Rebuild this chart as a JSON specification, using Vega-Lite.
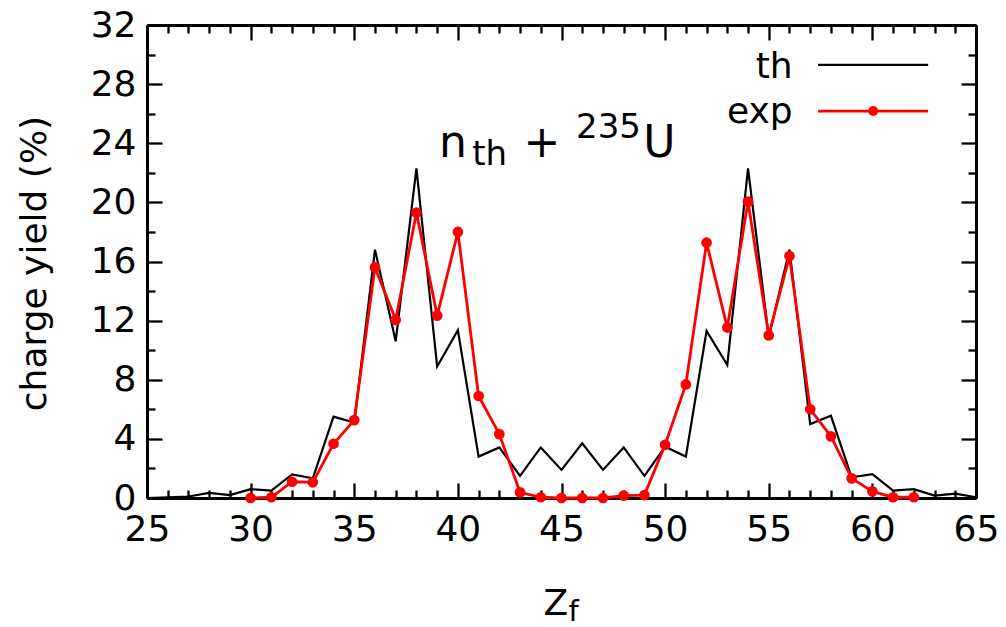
{
  "$schema": "https://vega.github.io/schema/vega-lite/v6.json",
  "width": 829,
  "height": 473,
  "autosize": {"type": "none"},
  "padding": {"left": 147, "top": 25, "right": 30, "bottom": 129},
  "background": "white",
  "config": {
    "view": {"stroke": null},
    "font": "DejaVu Sans",
    "axis": {"grid": false, "labelFont": "DejaVu Sans", "titleFont": "DejaVu Sans", "labelColor": "black", "titleColor": "black", "domainColor": "black", "tickColor": "black", "titleFontWeight": "normal"}
  },
  "datasets": {
    "th": [
      {"Z": 25, "yield": 0.0}, {"Z": 26, "yield": 0.05}, {"Z": 27, "yield": 0.1}, {"Z": 28, "yield": 0.34},
      {"Z": 29, "yield": 0.2}, {"Z": 30, "yield": 0.6}, {"Z": 31, "yield": 0.5}, {"Z": 32, "yield": 1.6},
      {"Z": 33, "yield": 1.33}, {"Z": 34, "yield": 5.5}, {"Z": 35, "yield": 5.1}, {"Z": 36, "yield": 16.8},
      {"Z": 37, "yield": 10.6}, {"Z": 38, "yield": 22.3}, {"Z": 39, "yield": 8.9}, {"Z": 40, "yield": 11.35},
      {"Z": 41, "yield": 2.8}, {"Z": 42, "yield": 3.42}, {"Z": 43, "yield": 1.5}, {"Z": 44, "yield": 3.42},
      {"Z": 45, "yield": 1.9}, {"Z": 46, "yield": 3.7}, {"Z": 47, "yield": 1.9}, {"Z": 48, "yield": 3.42},
      {"Z": 49, "yield": 1.5}, {"Z": 50, "yield": 3.47}, {"Z": 51, "yield": 2.8}, {"Z": 52, "yield": 11.3},
      {"Z": 53, "yield": 9.0}, {"Z": 54, "yield": 22.3}, {"Z": 55, "yield": 10.9}, {"Z": 56, "yield": 16.8},
      {"Z": 57, "yield": 5.0}, {"Z": 58, "yield": 5.56}, {"Z": 59, "yield": 1.4}, {"Z": 60, "yield": 1.62},
      {"Z": 61, "yield": 0.5}, {"Z": 62, "yield": 0.6}, {"Z": 63, "yield": 0.16}, {"Z": 64, "yield": 0.3},
      {"Z": 65, "yield": 0.05}
    ],
    "exp": [
      {"Z": 30, "yield": 0.0}, {"Z": 31, "yield": 0.05}, {"Z": 32, "yield": 1.1}, {"Z": 33, "yield": 1.06},
      {"Z": 34, "yield": 3.67}, {"Z": 35, "yield": 5.27}, {"Z": 36, "yield": 15.6}, {"Z": 37, "yield": 12.05},
      {"Z": 38, "yield": 19.3}, {"Z": 39, "yield": 12.34}, {"Z": 40, "yield": 18.0}, {"Z": 41, "yield": 6.9},
      {"Z": 42, "yield": 4.32}, {"Z": 43, "yield": 0.38}, {"Z": 44, "yield": 0.05}, {"Z": 45, "yield": 0.0},
      {"Z": 46, "yield": 0.0}, {"Z": 47, "yield": 0.0}, {"Z": 48, "yield": 0.16}, {"Z": 49, "yield": 0.2},
      {"Z": 50, "yield": 3.6}, {"Z": 51, "yield": 7.68}, {"Z": 52, "yield": 17.27}, {"Z": 53, "yield": 11.53},
      {"Z": 54, "yield": 20.05}, {"Z": 55, "yield": 11.0}, {"Z": 56, "yield": 16.37}, {"Z": 57, "yield": 6.0},
      {"Z": 58, "yield": 4.17}, {"Z": 59, "yield": 1.33}, {"Z": 60, "yield": 0.45}, {"Z": 61, "yield": 0.05},
      {"Z": 62, "yield": 0.05}
    ]
  },
  "resolve": {"axis": {"x": "independent", "y": "independent"}},
  "layer": [
    {
      "data": {"name": "th"},
      "mark": {"type": "line", "color": "black", "strokeWidth": 2.2, "clip": false},
      "encoding": {
        "x": {"field": "Z", "type": "quantitative",
          "scale": {"domain": [25, 65], "nice": false, "zero": false},
          "axis": {"orient": "bottom", "values": [25, 30, 35, 40, 45, 50, 55, 60, 65], "ticks": true, "tickSize": -15, "tickWidth": 2.3, "tickColor": "black", "domain": true, "domainWidth": 3,
            "labelFontSize": 36, "labelBaseline": "alphabetic", "labelPadding": 57, "labelFlush": false, "labelOverlap": false,
            "title": "Z", "titleFontSize": 36, "titleAlign": "left", "titleBaseline": "alphabetic", "titleX": 396, "titleY": 116, "titleAngle": 0}},
        "y": {"field": "yield", "type": "quantitative",
          "scale": {"domain": [0, 32], "nice": false, "zero": true},
          "axis": {"orient": "left", "values": [0, 4, 8, 12, 16, 20, 24, 28, 32], "ticks": true, "tickSize": -15, "tickWidth": 2.3, "tickColor": "black", "domain": true, "domainWidth": 3,
            "labelFontSize": 36, "labelPadding": 26, "labelFlush": false, "labelOverlap": false, "labelBaseline": "middle",
            "title": "charge yield (%)", "titleFontSize": 36, "titleAngle": 270, "titleAlign": "center", "titleBaseline": "alphabetic", "titleX": -102, "titleY": 238}}
      }
    },
    {
      "data": {"name": "exp"},
      "mark": {"type": "line", "color": "#ff0000", "strokeWidth": 2.8, "clip": false},
      "encoding": {
        "x": {"field": "Z", "type": "quantitative",
          "axis": {"orient": "bottom", "values": [26, 27, 28, 29, 31, 32, 33, 34, 36, 37, 38, 39, 41, 42, 43, 44, 46, 47, 48, 49, 51, 52, 53, 54, 56, 57, 58, 59, 61, 62, 63, 64], "ticks": true, "tickSize": -8, "tickWidth": 2.3, "tickColor": "black", "domain": false, "labels": true, "labelExpr": "''", "labelOverlap": false,
            "title": "f", "titleFontSize": 29, "titleAlign": "left", "titleBaseline": "alphabetic", "titleX": 421, "titleY": 122, "titleAngle": 0}},
        "y": {"field": "yield", "type": "quantitative",
          "axis": {"orient": "left", "values": [2, 6, 10, 14, 18, 22, 26, 30], "ticks": true, "tickSize": -8, "tickWidth": 2.3, "tickColor": "black", "domain": false, "labels": true, "labelExpr": "''", "labelOverlap": false, "title": null}}
      }
    },
    {
      "data": {"name": "exp"},
      "mark": {"type": "point", "shape": "circle", "filled": true, "color": "#ff0000", "size": 115, "opacity": 1, "clip": false},
      "encoding": {
        "x": {"field": "Z", "type": "quantitative",
          "axis": {"orient": "top", "values": [25, 30, 35, 40, 45, 50, 55, 60, 65], "ticks": true, "tickSize": -15, "tickWidth": 2.3, "tickColor": "black", "domain": true, "domainWidth": 3, "domainColor": "black", "labels": true, "labelExpr": "''", "labelOverlap": false, "title": null}},
        "y": {"field": "yield", "type": "quantitative",
          "axis": {"orient": "right", "values": [0, 4, 8, 12, 16, 20, 24, 28, 32], "ticks": true, "tickSize": -15, "tickWidth": 2.3, "tickColor": "black", "domain": true, "domainWidth": 3, "domainColor": "black", "labels": true, "labelExpr": "''", "labelOverlap": false, "title": null}}
      }
    },
    {
      "data": {"values": [{}]},
      "mark": {"type": "text", "text": "n", "fontSize": 44, "align": "left", "baseline": "alphabetic", "color": "black", "font": "DejaVu Sans"},
      "encoding": {
        "x": {"datum": 39.09, "type": "quantitative",
          "axis": {"orient": "top", "values": [26, 27, 28, 29, 31, 32, 33, 34, 36, 37, 38, 39, 41, 42, 43, 44, 46, 47, 48, 49, 51, 52, 53, 54, 56, 57, 58, 59, 61, 62, 63, 64], "ticks": true, "tickSize": -8, "tickWidth": 2.3, "tickColor": "black", "domain": false, "labels": true, "labelExpr": "''", "labelOverlap": false, "title": null}},
        "y": {"datum": 23.07, "type": "quantitative",
          "axis": {"orient": "right", "values": [2, 6, 10, 14, 18, 22, 26, 30], "ticks": true, "tickSize": -8, "tickWidth": 2.3, "tickColor": "black", "domain": false, "labels": true, "labelExpr": "''", "labelOverlap": false, "title": null}}
      }
    },
    {
      "data": {"values": [{}]},
      "mark": {"type": "text", "text": "th", "fontSize": 34, "align": "left", "baseline": "alphabetic", "color": "black", "font": "DejaVu Sans"},
      "encoding": {
        "x": {"datum": 40.69, "type": "quantitative", "axis": null},
        "y": {"datum": 22.53, "type": "quantitative", "axis": null}
      }
    },
    {
      "data": {"values": [{}]},
      "mark": {"type": "text", "text": "+", "fontSize": 44, "align": "center", "baseline": "alphabetic", "color": "black", "font": "DejaVu Sans"},
      "encoding": {
        "x": {"datum": 44.06, "type": "quantitative", "axis": null},
        "y": {"datum": 23.07, "type": "quantitative", "axis": null}
      }
    },
    {
      "data": {"values": [{}]},
      "mark": {"type": "text", "text": "235", "fontSize": 34, "align": "left", "baseline": "alphabetic", "color": "black", "font": "DejaVu Sans"},
      "encoding": {
        "x": {"datum": 45.7, "type": "quantitative", "axis": null},
        "y": {"datum": 24.36, "type": "quantitative", "axis": null}
      }
    },
    {
      "data": {"values": [{}]},
      "mark": {"type": "text", "text": "U", "fontSize": 44, "align": "left", "baseline": "alphabetic", "color": "black", "font": "DejaVu Sans"},
      "encoding": {
        "x": {"datum": 48.94, "type": "quantitative", "axis": null},
        "y": {"datum": 23.07, "type": "quantitative", "axis": null}
      }
    },
    {
      "data": {"values": [{}]},
      "mark": {"type": "text", "text": "th", "fontSize": 36, "align": "right", "baseline": "alphabetic", "color": "black", "font": "DejaVu Sans"},
      "encoding": {
        "x": {"datum": 56.15, "type": "quantitative", "axis": null},
        "y": {"datum": 28.42, "type": "quantitative", "axis": null}
      }
    },
    {
      "data": {"values": [{}]},
      "mark": {"type": "text", "text": "exp", "fontSize": 36, "align": "right", "baseline": "alphabetic", "color": "black", "font": "DejaVu Sans"},
      "encoding": {
        "x": {"datum": 56.15, "type": "quantitative", "axis": null},
        "y": {"datum": 25.37, "type": "quantitative", "axis": null}
      }
    },
    {
      "data": {"values": [{}]},
      "mark": {"type": "rule", "color": "black", "strokeWidth": 2.2},
      "encoding": {
        "x": {"datum": 57.38, "type": "quantitative", "axis": null},
        "x2": {"datum": 62.69},
        "y": {"datum": 29.3, "type": "quantitative", "axis": null}
      }
    },
    {
      "data": {"values": [{}]},
      "mark": {"type": "rule", "color": "#ff0000", "strokeWidth": 2.8},
      "encoding": {
        "x": {"datum": 57.38, "type": "quantitative", "axis": null},
        "x2": {"datum": 62.69},
        "y": {"datum": 26.18, "type": "quantitative", "axis": null}
      }
    },
    {
      "data": {"values": [{}]},
      "mark": {"type": "point", "shape": "circle", "filled": true, "color": "#ff0000", "size": 100, "opacity": 1},
      "encoding": {
        "x": {"datum": 60.04, "type": "quantitative", "axis": null},
        "y": {"datum": 26.18, "type": "quantitative", "axis": null}
      }
    }
  ]
}
